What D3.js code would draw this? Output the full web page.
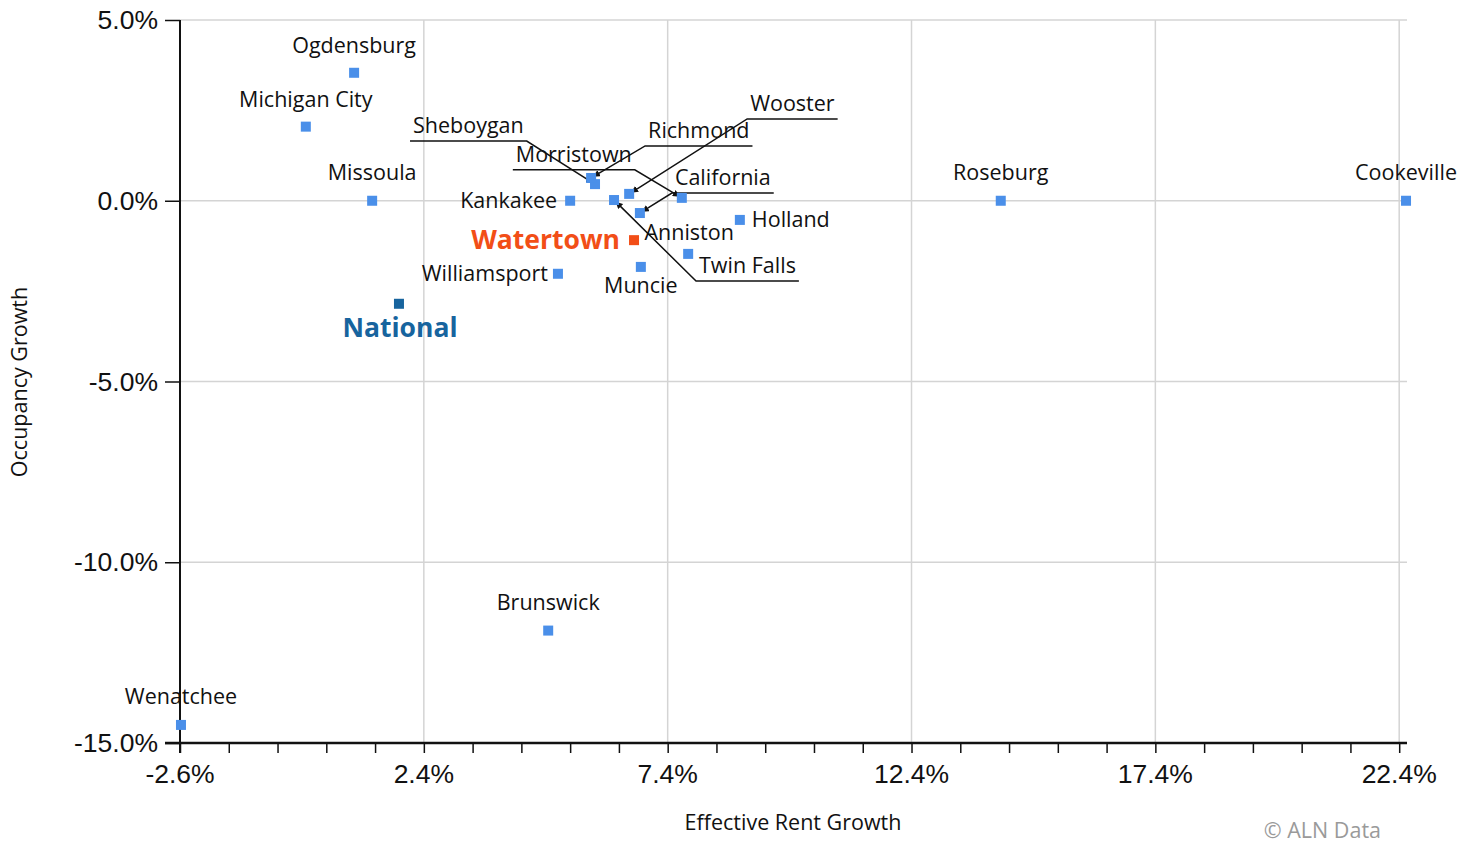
<!DOCTYPE html>
<html>
<head>
<meta charset="utf-8">
<script src="https://cdn.jsdelivr.net/npm/d3@7"></script>
<style>
  html, body { margin: 0; padding: 0; background: #fff; }
  svg { display: block; }
  .tick-label { font-family: "Liberation Sans", Arial, sans-serif; font-size: 26.5px; fill: #111; }
  .pt-label { font-family: "Open Sans", "Noto Sans", sans-serif; font-size: 21.5px; fill: #111; }
  .axis-title { font-family: "Open Sans", "Noto Sans", sans-serif; font-size: 21.5px; fill: #111; }
</style>
</head>
<body>
<svg id="chart" width="1471" height="844"></svg>
<script>
// Markets: effective rent growth (%) vs occupancy growth (%)
const cities = [
  "Ogdensburg", "Michigan City", "Missoula", "National", "Kankakee",
  "Williamsport", "Sheboygan", "Richmond", "Wooster", "Morristown",
  "California", "Twin Falls", "Muncie", "Watertown", "Anniston",
  "Holland", "Roseburg", "Cookeville", "Brunswick", "Wenatchee"
];
const rentGrowth = [
  0.97, -0.02, 1.34, 1.89, 5.40,
  5.15, 5.91, 5.83, 6.61, 7.69,
  6.83, 6.30, 6.85, 6.71, 7.82,
  8.88, 14.23, 22.54, 4.95, -2.58
];
const occGrowth = [
  3.54, 2.05, 0.00, -2.85, 0.00,
  -2.02, 0.46, 0.63, 0.19, 0.08,
  -0.34, 0.02, -1.83, -1.09, -1.47,
  -0.53, 0.00, 0.00, -11.89, -14.50
];
const xTickValues = [-2.6, 2.4, 7.4, 12.4, 17.4, 22.4];
const yTickValues = [5, 0, -5, -10, -15];

// Label placement: [text-anchor, dx, dy] relative to the marker
const labelPlacement = {
  "Ogdensburg": ["middle", 0, -20], "Michigan City": ["middle", 0, -20],
  "Missoula": ["middle", 0, -21], "Roseburg": ["middle", 0, -21],
  "Cookeville": ["middle", 0, -21], "Brunswick": ["middle", 0, -21],
  "Wenatchee": ["middle", 0, -21], "Kankakee": ["end", -13, 7],
  "Williamsport": ["end", -10, 7], "Holland": ["start", 12, 7],
  "Watertown": ["end", -14, 9], "National": ["middle", 1, 33],
  "Muncie": ["middle", 0, 26], "Anniston": ["middle", 1, -14]
};
// Callout labels: text start dx, baseline dy, elbow at which end of the underline
const callouts = {
  "Sheboygan": [-182, -51, "end"], "Richmond": [57, -40, "start"],
  "Wooster": [121, -83, "start"], "Morristown": [-166, -36, "end"],
  "California": [35, -28, "start"], "Twin Falls": [85, 73, "start"]
};
const highlight = {
  "Watertown": { color: "#f24e17", size: 26.5 },
  "National": { color: "#17649e", size: 26.5 }
};
const pointColor = "#4a8fe9";

const svg = d3.select("#chart");
const plotLeft = 180, plotRight = 1407, plotTop = 20, plotBottom = 743;

const x = d3.scaleLinear().domain([-2.6, 22.56]).range([plotLeft, plotRight]);
const y = d3.scaleLinear().domain([-15, 5]).range([plotBottom, plotTop]);

const defs = svg.append("defs");
defs.append("marker")
  .attr("id", "arrow").attr("viewBox", "0 0 10 10")
  .attr("refX", 9).attr("refY", 5)
  .attr("markerWidth", 7).attr("markerHeight", 7)
  .attr("markerUnits", "userSpaceOnUse")
  .attr("orient", "auto")
  .append("path").attr("d", "M0,0 L10,5 L0,10 Z").attr("fill", "#111");

// Grid
const grid = svg.append("g");
grid.selectAll("line.gx").data(xTickValues.slice(1)).join("line")
  .attr("x1", d => x(d)).attr("x2", d => x(d))
  .attr("y1", plotTop).attr("y2", plotBottom)
  .attr("stroke", "#d4d4d4").attr("stroke-width", 1.5);
grid.selectAll("line.gy").data(yTickValues.slice(0, -1)).join("line")
  .attr("x1", plotLeft).attr("x2", plotRight)
  .attr("y1", d => y(d)).attr("y2", d => y(d))
  .attr("stroke", "#d4d4d4").attr("stroke-width", 1.5);

// X axis with unit minor ticks
const xMinor = d3.range(0, 26).map(i => -2.6 + i);
const xAxis = svg.append("g").attr("transform", `translate(0,${plotBottom})`)
  .call(d3.axisBottom(x).tickValues(xMinor).tickSize(10).tickFormat(""));
xAxis.select(".domain").remove();
xAxis.selectAll(".tick line").attr("stroke", "#111").attr("stroke-width", 1.5);
svg.append("line").attr("x1", plotLeft - 15).attr("x2", plotRight)
  .attr("y1", plotBottom).attr("y2", plotBottom)
  .attr("stroke", "#111").attr("stroke-width", 2.5);
svg.append("g").selectAll("text").data(xTickValues).join("text")
  .attr("class", "tick-label")
  .attr("x", d => x(d)).attr("y", plotBottom + 40)
  .attr("text-anchor", "middle")
  .text(d => d.toFixed(1) + "%");

// Y axis
const yAxis = svg.append("g").attr("transform", `translate(${plotLeft},0)`)
  .call(d3.axisLeft(y).tickValues(yTickValues).tickSize(15).tickFormat(""));
yAxis.select(".domain").remove();
yAxis.selectAll(".tick line").attr("stroke", "#111").attr("stroke-width", 1.5);
svg.append("line").attr("x1", plotLeft).attr("x2", plotLeft)
  .attr("y1", plotTop).attr("y2", plotBottom + 10)
  .attr("stroke", "#111").attr("stroke-width", 2);
svg.append("g").selectAll("text").data(yTickValues).join("text")
  .attr("class", "tick-label")
  .attr("x", plotLeft - 22).attr("y", d => y(d) + 9)
  .attr("text-anchor", "end")
  .text(d => d.toFixed(1) + "%");

// Axis titles
svg.append("text").attr("class", "axis-title")
  .attr("x", 793).attr("y", 830).attr("text-anchor", "middle")
  .text("Effective Rent Growth");
svg.append("text").attr("class", "axis-title")
  .attr("transform", "translate(27,382) rotate(-90)")
  .attr("text-anchor", "middle")
  .text("Occupancy Growth");
svg.append("text").attr("class", "axis-title")
  .attr("x", 1381).attr("y", 838).attr("text-anchor", "end")
  .style("fill", "#9a9a9a")
  .text("\u00A9 ALN Data");

const points = cities.map((c, i) => ({ name: c, rx: rentGrowth[i], oy: occGrowth[i] }));

// Callout lines and labels
const calloutG = svg.append("g");
points.filter(p => callouts[p.name]).forEach(p => {
  const [dx, dy, elbow] = callouts[p.name];
  const px = x(p.rx), py = y(p.oy);
  const t = calloutG.append("text").attr("class", "pt-label")
    .attr("x", px + dx).attr("y", py + dy).text(p.name);
  const w = t.node().getComputedTextLength();
  const ux0 = px + dx - 3, ux1 = px + dx + w + 3, uy = py + dy + 8;
  const ex = elbow === "start" ? ux0 : ux1;
  const far = elbow === "start" ? ux1 : ux0;
  // Stop the arrow just short of the marker centre
  const ang = Math.atan2(py - uy, px - ex);
  const tx = px - Math.cos(ang) * 3, ty = py - Math.sin(ang) * 3;
  calloutG.append("path")
    .attr("d", `M${far},${uy} L${ex},${uy} L${tx},${ty}`)
    .attr("fill", "none").attr("stroke", "#111").attr("stroke-width", 1.5)
    .attr("marker-end", "url(#arrow)");
});

// Markers
svg.append("g").selectAll("rect").data(points).join("rect")
  .attr("x", d => x(d.rx) - 5).attr("y", d => y(d.oy) - 5)
  .attr("width", 10).attr("height", 10)
  .attr("fill", d => highlight[d.name] ? highlight[d.name].color : pointColor);

// Plain labels
svg.append("g").selectAll("text").data(points.filter(p => labelPlacement[p.name])).join("text")
  .attr("class", "pt-label")
  .attr("x", d => x(d.rx) + labelPlacement[d.name][1])
  .attr("y", d => y(d.oy) + labelPlacement[d.name][2])
  .attr("text-anchor", d => labelPlacement[d.name][0])
  .style("font-weight", d => highlight[d.name] ? "700" : null)
  .style("font-size", d => highlight[d.name] ? highlight[d.name].size + "px" : null)
  .style("fill", d => highlight[d.name] ? highlight[d.name].color : null)
  .text(d => d.name);
</script>
</body>
</html>
